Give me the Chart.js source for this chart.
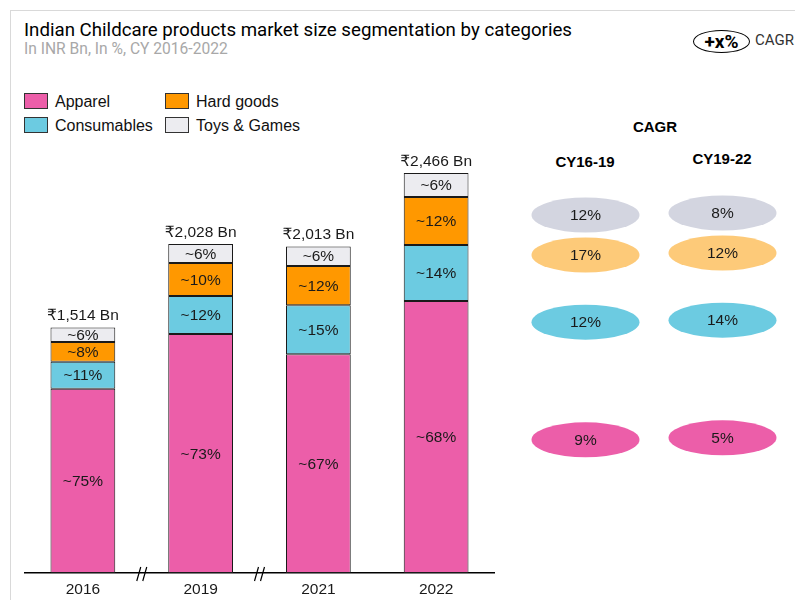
<!DOCTYPE html>
<html>
<head>
<meta charset="utf-8">
<script src="https://cdn.jsdelivr.net/npm/chart.js@4"></script>
<style>
  body { margin: 0; width: 795px; height: 600px; overflow: hidden; background: #fff; font-family: "Liberation Sans", Arial, sans-serif; position: relative; }
  .frame { position: absolute; left: 10px; top: 10px; width: 820px; height: 620px; border: 1.5px solid #d9d9d9; }
  .title { position: absolute; left: 24px; top: 19px; font: 18.7px Roboto, sans-serif; color: #000; white-space: nowrap; }
  .subtitle { position: absolute; left: 24px; top: 40px; font: 15.6px Roboto, sans-serif; color: #a8a8a8; white-space: nowrap; }
  .badge { position: absolute; left: 693px; top: 30px; width: 55px; height: 21px; border: 1.3px solid #000; border-radius: 50%; font: bold 19px Roboto, sans-serif; text-align: center; line-height: 21px; }
  .badge-text { position: absolute; left: 755px; top: 31px; font: 15px Roboto, sans-serif; color: #333; white-space: nowrap; }
  .legend { position: absolute; font-size: 16px; color: #111; white-space: nowrap; }
  .legend .sw { display: inline-block; width: 22px; height: 14px; border: 1px solid #333; vertical-align: -2px; margin-right: 7px; }
  .head { position: absolute; font: bold 15px "Liberation Sans", Arial, sans-serif; color: #000; transform: translateX(-50%); white-space: nowrap; }
  #barWrap { position: absolute; left: 24px; top: 140px; }
  #cagrWrap { position: absolute; left: 517px; top: 190px; }
</style>
</head>
<body>
<div class="frame"></div>
<div class="title">Indian Childcare products market size segmentation by categories</div>
<div class="subtitle">In INR Bn, In %, CY 2016-2022</div>
<div class="badge">+x%</div>
<div class="badge-text">CAGR</div>

<div id="legend"></div>

<div class="head" style="left:655px; top:118px;">CAGR</div>
<div class="head" style="left:585px; top:153px;">CY16-19</div>
<div class="head" style="left:722px; top:150px;">CY19-22</div>

<div id="barWrap"><canvas id="barChart" width="471" height="460"></canvas></div>
<div id="cagrWrap"><canvas id="cagrChart" width="274" height="270"></canvas></div>

<script>
const years = ["2016", "2019", "2021", "2022"];
const totals = [1514, 2028, 2013, 2466];

// segment sizes in INR Bn
const apparel = [1136, 1473, 1349, 1677];
const consumables = [167, 235, 302, 345];
const hardGoods = [121, 203, 242, 296];
const toysGames = [90, 117, 120, 148];

// shares shown inside the bars
const apparelPct = [75, 73, 67, 68];
const consumablesPct = [11, 12, 15, 14];
const hardGoodsPct = [8, 10, 12, 12];
const toysGamesPct = [6, 6, 6, 6];

// CAGR by category: toys, hard goods, consumables, apparel
const cagrCategories = ["Toys & Games", "Hard goods", "Consumables", "Apparel"];
const cagr1619 = [12, 17, 12, 9];
const cagr1922 = [8, 12, 14, 5];

const colors = {
  apparel: "#ec5ea9",
  consumables: "#6ccbe1",
  hardGoods: "#ff9800",
  toys: "#ececf0"
};
const cagrColors = ["#d3d5e0", "#fdca79", "#6ccbe1", "#ec5ea9"];
// vertical slot of each CAGR row (layout only)
const cagrRowSlot = [0, 1, 2.68, 5.62];

// legend
const legendItems = [
  ["Apparel", colors.apparel, 24, 94],
  ["Hard goods", colors.hardGoods, 165, 94],
  ["Consumables", colors.consumables, 24, 118],
  ["Toys & Games", colors.toys, 165, 118]
];
document.getElementById("legend").innerHTML = legendItems.map(it =>
  `<div class="legend" style="left:${it[2]}px; top:${it[3] - 1}px;"><span class="sw" style="background:${it[1]}"></span>${it[0]}</div>`
).join("");

const segLabels = {
  id: "segLabels",
  afterDatasetsDraw(chart) {
    const ctx = chart.ctx;
    ctx.save();
    ctx.fillStyle = "#1a1a1a";
    ctx.textAlign = "center";
    ctx.textBaseline = "middle";
    ctx.font = '15.5px "Liberation Sans", Arial, sans-serif';
    chart.data.datasets.forEach((ds, di) => {
      const meta = chart.getDatasetMeta(di);
      meta.data.forEach((bar, i) => {
        ctx.fillText("~" + ds.pcts[i] + "%", bar.x, (bar.y + bar.base) / 2 + 1);
      });
    });
    // totals above the bars
    const top = chart.getDatasetMeta(chart.data.datasets.length - 1);
    ctx.font = '15.5px "Liberation Sans", "DejaVu Sans", Arial, sans-serif';
    ctx.textBaseline = "bottom";
    top.data.forEach((bar, i) => {
      ctx.fillText("₹" + totals[i].toLocaleString("en-US") + " Bn", bar.x, bar.y - 4);
    });
    // axis break marks
    const xs = chart.scales.x;
    const yb = chart.chartArea.bottom;
    ctx.strokeStyle = "#000";
    ctx.lineWidth = 1.2;
    [0, 1].forEach(i => {
      const mx = (xs.getPixelForValue(i) + xs.getPixelForValue(i + 1)) / 2;
      ctx.beginPath();
      ctx.moveTo(mx - 5, yb + 8); ctx.lineTo(mx - 1, yb - 6);
      ctx.moveTo(mx + 1, yb + 8); ctx.lineTo(mx + 5, yb - 6);
      ctx.stroke();
    });
    ctx.restore();
  }
};

function barSet(label, data, pcts, color) {
  return {
    label, data, pcts,
    backgroundColor: color,
    borderColor: "#1a1a1a",
    borderWidth: 1,
    borderSkipped: false,
    barPercentage: 0.55,
    categoryPercentage: 1.0
  };
}

new Chart(document.getElementById("barChart"), {
  type: "bar",
  data: {
    labels: years,
    datasets: [
      barSet("Apparel", apparel, apparelPct, colors.apparel),
      barSet("Consumables", consumables, consumablesPct, colors.consumables),
      barSet("Hard goods", hardGoods, hardGoodsPct, colors.hardGoods),
      barSet("Toys & Games", toysGames, toysGamesPct, colors.toys)
    ]
  },
  options: {
    responsive: false,
    animation: false,
    devicePixelRatio: 1,
    events: [],
    layout: { padding: { top: 20, left: 0, right: 0, bottom: 0 } },
    plugins: { legend: { display: false }, tooltip: { enabled: false } },
    scales: {
      x: {
        stacked: true,
        grid: { display: false },
        border: { display: true, color: "#000", width: 1.5 },
        ticks: { color: "#1a1a1a", font: { size: 15.5, family: '"Liberation Sans", Arial, sans-serif' }, padding: -1 },
        afterFit(scale) { scale.height = 27; }
      },
      y: { stacked: true, display: false, min: 0, max: 2546 }
    }
  },
  plugins: [segLabels]
});

const ellipses = {
  id: "ellipses",
  afterDatasetsDraw(chart) {
    const ctx = chart.ctx;
    ctx.save();
    ctx.textAlign = "center";
    ctx.textBaseline = "middle";
    ctx.font = '15.5px "Liberation Sans", Arial, sans-serif';
    chart.data.datasets.forEach((ds, di) => {
      chart.getDatasetMeta(di).data.forEach((pt, i) => {
        ctx.fillStyle = cagrColors[i];
        ctx.beginPath();
        ctx.ellipse(pt.x, pt.y, 54, 17.5, 0, 0, Math.PI * 2);
        ctx.fill();
        ctx.fillStyle = "#1a1a1a";
        ctx.fillText(ds.values[i] + "%", pt.x, pt.y + 1);
      });
    });
    ctx.restore();
  }
};

function cagrSet(label, values, col, shift) {
  return {
    label, values,
    data: values.map((v, i) => ({ x: col, y: cagrRowSlot[i] - shift })),
    pointRadius: 0
  };
}

new Chart(document.getElementById("cagrChart"), {
  type: "scatter",
  data: {
    datasets: [
      cagrSet("CY16-19", cagr1619, 0, 0),
      cagrSet("CY19-22", cagr1922, 1, 0.05)
    ]
  },
  options: {
    responsive: false,
    animation: false,
    devicePixelRatio: 1,
    events: [],
    layout: { padding: 0 },
    plugins: { legend: { display: false }, tooltip: { enabled: false } },
    scales: {
      x: { type: "linear", display: false, min: -0.5, max: 1.5 },
      y: { type: "linear", display: false, reverse: true, min: -0.625, max: 6.125 }
    }
  },
  plugins: [ellipses]
});
</script>
</body>
</html>
